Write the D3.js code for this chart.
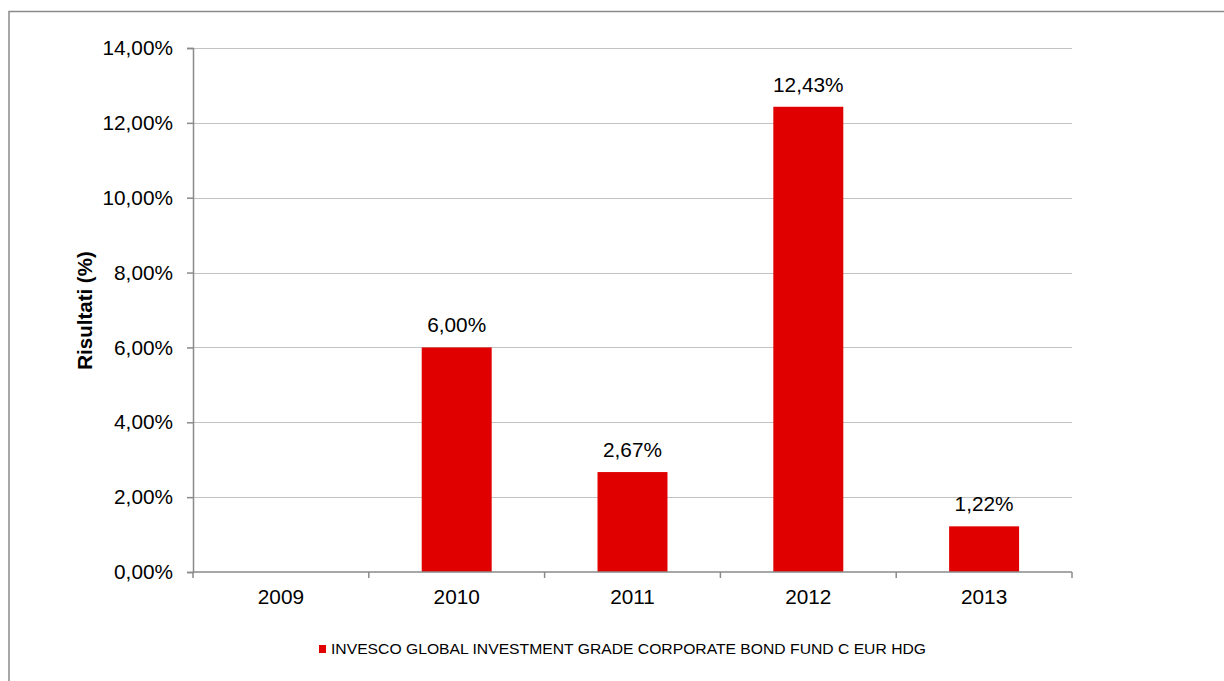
<!DOCTYPE html>
<html>
<head>
<meta charset="utf-8">
<script src="https://cdn.jsdelivr.net/npm/d3@7"></script>
<style>
  html, body { margin: 0; padding: 0; background: #fff; }
  svg { display: block; font-family: "Liberation Sans", Arial, sans-serif; }
</style>
</head>
<body>
<svg id="chart" width="1224" height="681"></svg>
<script>
const categories = ["2009", "2010", "2011", "2012", "2013"];
const values = [null, 6.00, 2.67, 12.43, 1.22];
const yTicks = [0, 2, 4, 6, 8, 10, 12, 14];
const seriesName = "INVESCO GLOBAL INVESTMENT GRADE CORPORATE BOND FUND C EUR HDG";
const yAxisTitle = "Risultati (%)";

const fmt = v => v.toFixed(2).replace(".", ",") + "%";

const svg = d3.select("#chart");
const W = 1224, H = 681;
const plot = { left: 193, right: 1072, top: 48, bottom: 572 };
const FS = 20.8;

// outer border (extends beyond the visible window on right/bottom)
svg.append("rect")
  .attr("x", 9).attr("y", 11.5)
  .attr("width", W + 20).attr("height", H + 20)
  .attr("fill", "none").attr("stroke", "#8a8a8a").attr("stroke-width", 1.5);

const x = d3.scaleBand().domain(categories)
  .range([plot.left, plot.right])
  .paddingInner(0.602).paddingOuter(0.301);
const y = d3.scaleLinear().domain([0, 14]).range([plot.bottom, plot.top]);

// gridlines
svg.append("g").selectAll("line").data(yTicks.filter(t => t > 0)).join("line")
  .attr("x1", plot.left).attr("x2", plot.right)
  .attr("y1", d => Math.round(y(d)) + 0.5).attr("y2", d => Math.round(y(d)) + 0.5)
  .attr("stroke", "#c3c3c3").attr("stroke-width", 1);

// y axis
const yAxis = d3.axisLeft(y).tickValues(yTicks).tickSize(6).tickPadding(14).tickFormat(fmt);
const gy = svg.append("g").attr("transform", `translate(${plot.left},0)`).call(yAxis);
gy.select(".domain").attr("stroke", "#8a8a8a").attr("stroke-width", 1.5);
gy.selectAll(".tick line").attr("stroke", "#8a8a8a").attr("stroke-width", 1.5);
gy.selectAll(".tick text").attr("font-size", FS).attr("fill", "#000")
  .attr("font-family", "Liberation Sans, Arial, sans-serif");

// bars
svg.append("g").selectAll("rect").data(categories.map((c, i) => ({ c, v: values[i] })).filter(d => d.v != null))
  .join("rect")
  .attr("x", d => x(d.c)).attr("width", x.bandwidth())
  .attr("y", d => y(d.v)).attr("height", d => y(0) - y(d.v))
  .attr("fill", "#e10000");

// x axis
const xEdges = d3.range(categories.length + 1).map(i => plot.left + i * x.step());
svg.append("line")
  .attr("x1", plot.left).attr("x2", plot.right)
  .attr("y1", plot.bottom).attr("y2", plot.bottom)
  .attr("stroke", "#8a8a8a").attr("stroke-width", 1.5);
svg.append("g").selectAll("line").data(xEdges).join("line")
  .attr("x1", d => d).attr("x2", d => d)
  .attr("y1", plot.bottom).attr("y2", plot.bottom + 6)
  .attr("stroke", "#8a8a8a").attr("stroke-width", 1.5);
svg.append("g").selectAll("text").data(categories).join("text")
  .attr("x", d => x(d) + x.bandwidth() / 2)
  .attr("y", plot.bottom + 32)
  .attr("text-anchor", "middle").attr("font-size", FS).attr("fill", "#000")
  .text(d => d);

// data labels
svg.append("g").selectAll("text").data(categories.map((c, i) => ({ c, v: values[i] })).filter(d => d.v != null))
  .join("text")
  .attr("x", d => x(d.c) + x.bandwidth() / 2)
  .attr("y", d => y(d.v) - 15)
  .attr("text-anchor", "middle").attr("font-size", FS).attr("fill", "#000")
  .text(d => fmt(d.v));

// y axis title
svg.append("text")
  .attr("transform", `translate(92,${(250 + 371) / 2}) rotate(-90)`)
  .attr("text-anchor", "middle")
  .attr("font-size", 20.5).attr("font-weight", "bold").attr("fill", "#000")
  .text(yAxisTitle);

// legend
svg.append("rect").attr("x", 319).attr("y", 645).attr("width", 7).attr("height", 8).attr("fill", "#e10000");
svg.append("text").attr("x", 331).attr("y", 654)
  .attr("font-size", 15.5).attr("fill", "#000")
  .attr("textLength", 595).attr("lengthAdjust", "spacingAndGlyphs")
  .text(seriesName);
</script>
</body>
</html>
